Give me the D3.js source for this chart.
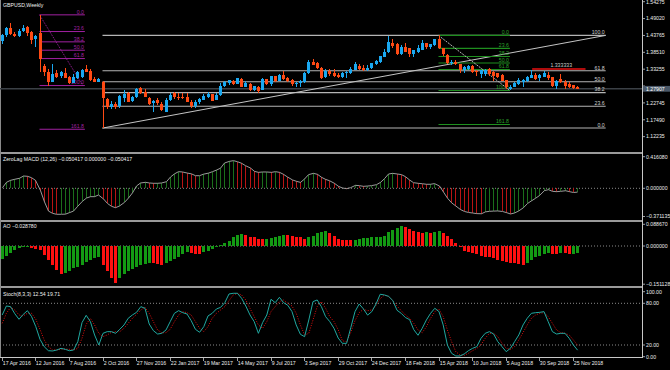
<!DOCTYPE html>
<html><head><meta charset="utf-8">
<script src="https://cdn.jsdelivr.net/npm/d3@7"></script>
<style>body{margin:0;background:#000;overflow:hidden}svg{display:block}</style>
</head><body>
<svg id="c" width="670" height="370"></svg>
<script>
// ---------------- DATA ----------------
const chartTitle = "GBPUSD,Weekly";
const open = [1.4195,1.4400,1.4600,1.4430,1.4365,1.4505,1.4630,1.4475,1.4250,1.4450,
1.3425,1.3250,1.2935,1.3195,1.3110,1.3215,1.3090,1.2905,1.3036,1.3091,
1.3322,1.3269,1.3008,1.2935,1.2935,1.2396,1.2156,1.2230,1.2177,1.2418,
1.2574,1.2335,1.2470,1.2730,1.2626,1.2439,1.2262,1.2366,1.2240,1.1983,
1.2366,1.2574,1.2470,1.2470,1.2470,1.2313,1.2178,1.2300,1.2365,1.2470,
1.2554,1.2365,1.2511,1.2801,1.2885,1.2967,1.2864,1.3009,1.2780,1.2853,
1.2677,1.2780,1.2690,1.3009,1.2864,1.3113,1.2967,1.3134,1.3040,1.2988,
1.2853,1.2884,1.2915,1.3196,1.3560,1.3508,1.3372,1.3071,1.3279,1.3217,
1.3144,1.3071,1.3196,1.3196,1.3300,1.3435,1.3372,1.3300,1.3352,1.3487,
1.3539,1.3694,1.3850,1.4151,1.4110,1.3788,1.4027,1.3975,1.3788,1.3850,
1.3923,1.4131,1.4027,1.4080,1.4255,1.3996,1.3767,1.3507,1.3550,1.3476,
1.3310,1.3340,1.3420,1.3270,1.3165,1.3175,1.3321,1.3248,1.3196,1.3144,
1.2988,1.2700,1.2781,1.2850,1.2930,1.2950,1.3060,1.3144,1.3040,1.3092,
1.3144,1.3071,1.2812,1.3020,1.2936,1.2853,1.2833,1.2780];
const high = [1.4410,1.4640,1.4755,1.4490,1.4590,1.4700,1.4680,1.4500,1.4380,1.5018,
1.3480,1.3320,1.3480,1.3300,1.3260,1.3370,1.3110,1.3185,1.3270,1.3340,
1.3444,1.3320,1.3090,1.3060,1.2970,1.2440,1.2335,1.2305,1.2510,1.2674,
1.2600,1.2500,1.2730,1.2775,1.2705,1.2450,1.2380,1.2430,1.2300,1.2415,
1.2590,1.2600,1.2580,1.2580,1.2570,1.2350,1.2350,1.2430,1.2550,1.2625,
1.2560,1.2580,1.2900,1.2960,1.2990,1.3000,1.3048,1.3050,1.2950,1.2880,
1.2810,1.2800,1.3050,1.3020,1.3125,1.3125,1.3160,1.3267,1.3070,1.3030,
1.2940,1.2980,1.3230,1.3616,1.3657,1.3550,1.3390,1.3340,1.3330,1.3320,
1.3200,1.3250,1.3260,1.3400,1.3550,1.3490,1.3450,1.3450,1.3530,1.3620,
1.3745,1.3940,1.4345,1.4250,1.4140,1.4070,1.4145,1.4000,1.3930,1.4090,
1.4245,1.4150,1.4110,1.4260,1.4377,1.4000,1.3800,1.3620,1.3610,1.3490,
1.3420,1.3470,1.3440,1.3310,1.3300,1.3320,1.3360,1.3260,1.3200,1.3170,
1.3000,1.2840,1.2930,1.3043,1.3010,1.3100,1.3298,1.3200,1.3160,1.3258,
1.3250,1.3080,1.2980,1.3175,1.2990,1.2930,1.2840,1.2800];
const low = [1.4105,1.4330,1.4400,1.4330,1.4330,1.4470,1.4350,1.4120,1.4010,1.3229,
1.3122,1.2798,1.2920,1.3060,1.3050,1.3040,1.2865,1.2880,1.3020,1.3060,
1.3240,1.2960,1.2920,1.2920,1.1491,1.2086,1.2100,1.2080,1.2110,1.2300,
1.2300,1.2300,1.2440,1.2550,1.2450,1.2200,1.2000,1.2200,1.2037,1.1980,
1.2340,1.2400,1.2350,1.2385,1.2300,1.2110,1.2110,1.2250,1.2350,1.2420,
1.2340,1.2360,1.2500,1.2770,1.2840,1.2840,1.2850,1.2760,1.2770,1.2635,
1.2660,1.2590,1.2690,1.2830,1.2810,1.2930,1.2960,1.2990,1.2930,1.2810,
1.2780,1.2774,1.2900,1.3180,1.3440,1.3330,1.3027,1.3060,1.3100,1.3080,
1.3040,1.3040,1.3060,1.3180,1.3290,1.3300,1.3260,1.3270,1.3340,1.3460,
1.3520,1.3690,1.3840,1.4000,1.3760,1.3760,1.3860,1.3712,1.3710,1.3830,
1.3910,1.3960,1.3965,1.4060,1.3950,1.3740,1.3480,1.3460,1.3450,1.3200,
1.3210,1.3310,1.3200,1.3100,1.3050,1.3100,1.3100,1.2957,1.3050,1.2950,
1.2720,1.2662,1.2770,1.2820,1.2785,1.2940,1.3040,1.2990,1.2960,1.3080,
1.2990,1.2770,1.2700,1.2900,1.2723,1.2740,1.2700,1.2700];
const close = [1.4404,1.4600,1.4420,1.4365,1.4525,1.4620,1.4465,1.4235,1.4360,1.3635,
1.3250,1.2935,1.3175,1.3090,1.3245,1.3040,1.2905,1.3075,1.3245,1.3300,
1.3250,1.2990,1.2940,1.3005,1.2418,1.2156,1.2240,1.2135,1.2501,1.2553,
1.2314,1.2470,1.2709,1.2574,1.2470,1.2230,1.2345,1.2262,1.2050,1.2366,
1.2522,1.2470,1.2439,1.2418,1.2314,1.2178,1.2300,1.2410,1.2490,1.2554,
1.2345,1.2523,1.2801,1.2936,1.2985,1.2864,1.3040,1.2770,1.2905,1.2677,
1.2801,1.2650,1.3030,1.2875,1.3110,1.2967,1.3140,1.3030,1.2950,1.2855,
1.2884,1.2957,1.3217,1.3560,1.3456,1.3352,1.3040,1.3279,1.3175,1.3113,
1.3071,1.3196,1.3227,1.3331,1.3487,1.3331,1.3300,1.3372,1.3528,1.3590,
1.3736,1.3871,1.4182,1.4048,1.3788,1.4027,1.3871,1.3788,1.3923,1.3975,
1.4131,1.4027,1.4099,1.4255,1.3996,1.3788,1.3507,1.3559,1.3476,1.3300,
1.3404,1.3435,1.3248,1.3248,1.3300,1.3300,1.3175,1.3113,1.3071,1.2957,
1.2781,1.2780,1.2880,1.2990,1.2990,1.3092,1.3140,1.3009,1.3144,1.3217,
1.3040,1.2801,1.2957,1.2936,1.2812,1.2760,1.2750,1.2717];
const bidLabel = "1.27907";

const macd = [0.008,0.079,0.105,0.118,0.132,0.162,0.158,0.140,0.105,-0.030,
-0.180,-0.300,-0.329,-0.342,-0.342,-0.340,-0.320,-0.300,-0.240,-0.170,
-0.128,-0.110,-0.110,-0.088,-0.140,-0.200,-0.237,-0.255,-0.233,-0.185,
-0.128,-0.060,0.030,0.070,0.079,0.070,0.066,0.066,0.070,0.087,
0.149,0.190,0.219,0.215,0.200,0.190,0.166,0.166,0.186,0.200,
0.219,0.240,0.265,0.333,0.355,0.364,0.350,0.330,0.298,0.267,
0.223,0.210,0.215,0.215,0.210,0.219,0.210,0.184,0.149,0.110,
0.092,0.078,0.122,0.180,0.197,0.184,0.145,0.118,0.100,0.065,
0.026,0.004,-0.005,0.008,0.039,0.035,0.026,0.030,0.035,0.048,
0.078,0.127,0.188,0.197,0.188,0.180,0.153,0.110,0.074,0.065,
0.060,0.053,0.053,0.062,0.030,-0.050,-0.130,-0.190,-0.230,-0.280,
-0.305,-0.318,-0.325,-0.333,-0.335,-0.310,-0.303,-0.300,-0.298,-0.305,
-0.320,-0.338,-0.325,-0.300,-0.255,-0.200,-0.165,-0.132,-0.095,-0.030,
-0.018,-0.040,-0.044,-0.040,-0.032,-0.044,-0.055,-0.050417];
const macdSignalNow = 0.000000;

const ao = [-0.052,-0.040,-0.026,-0.015,-0.009,-0.005,-0.003,-0.008,-0.011,-0.016,
-0.035,-0.055,-0.075,-0.095,-0.112,-0.108,-0.099,-0.088,-0.082,-0.075,
-0.062,-0.055,-0.046,-0.042,-0.075,-0.100,-0.125,-0.145,-0.125,-0.112,
-0.100,-0.090,-0.082,-0.076,-0.072,-0.066,-0.068,-0.072,-0.075,-0.068,
-0.058,-0.050,-0.042,-0.032,-0.024,-0.026,-0.030,-0.032,-0.025,-0.018,
-0.012,-0.004,0.003,0.011,0.021,0.034,0.043,0.047,0.043,0.037,
0.034,0.028,0.026,0.029,0.030,0.034,0.039,0.043,0.042,0.041,
0.037,0.034,0.029,0.034,0.039,0.050,0.057,0.058,0.050,0.039,
0.029,0.025,0.024,0.023,0.024,0.029,0.030,0.033,0.034,0.035,
0.037,0.039,0.057,0.063,0.070,0.078,0.074,0.066,0.059,0.055,
0.053,0.054,0.052,0.056,0.058,0.050,0.039,0.026,0.011,-0.002,
-0.018,-0.022,-0.026,-0.032,-0.040,-0.042,-0.045,-0.049,-0.055,-0.058,
-0.063,-0.066,-0.069,-0.071,-0.075,-0.069,-0.055,-0.045,-0.040,-0.032,
-0.026,-0.032,-0.033,-0.026,-0.029,-0.032,-0.030,-0.02878];

const stochMain = [63.2,76.1,75.2,65,57,64,69.4,60.8,46.4,28.2,
17.6,11.8,11.4,12.8,15.2,13.8,11.8,12.8,24.8,52.2,
62.7,53.6,34.4,20,36.8,39.2,39.2,36.8,42.6,48.8,
58.4,63.2,67.1,75.2,72.8,50.2,40.6,35.8,36.8,41.6,
53.6,65.6,69.4,66.5,64.6,55,42.6,38.3,46.4,61.8,
65.6,71.8,74.2,80.9,93.4,94.4,94.4,87.2,76.1,63.2,
53.6,36.8,52.2,63.2,85.8,80.9,88.6,80.9,77.1,68,
48.8,35.4,32,56,82.4,84.8,75.2,60.8,53.6,44,
30,22.4,22.4,45,68,79,72,63,68,79,
93,92,90,84,70,65.6,59.5,56.5,42,34,
44,56,65.6,72.8,68,48.8,20,8,4.2,4.2,
7.1,11.8,15.2,17.6,29.6,36.8,39.2,35.8,24.8,17.6,
10.4,15.2,24.8,34.4,48.8,58.4,65.6,66.5,67,68,
53.6,39.2,35.8,36.8,36.8,29.6,20,12.54];
const stochSignal = [51.2,65.6,74.2,70.4,63.2,61.8,65.6,65.6,57,42.6,
27.2,17.6,12.8,12.8,13.8,14.2,13.8,12.8,15.2,29.6,
49.8,58.4,48.8,36.8,32,34.4,38.2,39.2,39.2,44,
51.2,58.4,64.2,70.4,74.2,65.6,53.6,41.6,37.7,37.7,
42.6,53.6,63.2,68,66.5,63.2,53.6,44,39.2,46.4,
58.4,65.6,70.4,75.2,83.8,92,94.4,92,84.8,72.8,
60.8,48.8,44,53.6,68,75.2,82.4,84.8,80,76.1,
65.6,48.8,34.4,36.8,56,75.2,82.4,72.8,60.8,53.6,
42,26,24.8,38.2,55,66.5,71.4,69.4,70.4,77,
86.7,92,89.6,83.8,76.1,69.4,63.2,58.4,51.2,41.6,
37.7,46.4,58.4,68,71.4,60.8,41.6,24.8,10.4,5.6,
5.1,8,11.8,15.2,20,29.6,36.8,36.8,32,22.4,
15.2,13.8,17.6,27.2,37.7,48.8,58.4,63.2,65.6,66.5,
60.8,51.2,41.6,37.7,36.8,34.4,27.2,19.71];

const dateLabels = ["17 Apr 2016","12 Jun 2016","7 Aug 2016","2 Oct 2016","27 Nov 2016","22 Jan 2017",
"19 Mar 2017","14 May 2017","9 Jul 2017","3 Sep 2017","29 Oct 2017","24 Dec 2017","18 Feb 2018",
"15 Apr 2018","10 Jun 2018","5 Aug 2018","30 Sep 2018","25 Nov 2018"];
const dateLabelIndex = [0,8,16,24,32,40,48,56,64,72,80,88,96,104,112,120,128,136];

const priceTicks = [1.54275,1.49020,1.43765,1.38510,1.33255,1.28000,1.22745,1.17490,1.12235];
const macdTicks = [0.416080,0.000000,-0.371135];
const aoTicks = [0.088670,0.000000,-0.151128];
const stochTicks = [100,80,20,0];
const stochLevels = [80,20];

const fibLevels = [0,23.6,38.2,50,61.8,100,161.8];
const fibGrayLevels = [0,23.6,38.2,50,61.8,100];
// anchors: [barIndex, price]
const fibPurpleA = [9,1.5018], fibPurpleB = [19.8,1.2815];
const fibGrayA = [24,1.1491], fibGrayB = [143.8,1.4377];
const fibGreenA = [104,1.4377], fibGreenB = [121,1.2662];
const redLevel = 1.333333, redFrom = 126.3, redTo = 139;

// ---------------- DRAW ----------------
const svg = d3.select("#c");
const FONT = "Liberation Sans, Arial, sans-serif";
const FS = 5.2;
const plotR = 642;
svg.append("rect").attr("width",670).attr("height",370).attr("fill","#000");

const x = d3.scaleLinear().domain([0,137]).range([1.7, 1.7+137*4.2]);
const yP = d3.scaleLinear().domain([1.12235,1.54275]).range([136.65,1.7]);
const yM = d3.scaleLinear().domain([-0.371135,0.41608]).range([216.5,156.7]);
const yA = d3.scaleLinear().domain([-0.151128,0.08867]).range([284.2,223.6]);
const yS = d3.scaleLinear().domain([0,100]).range([358.9,289.4]);
const idx = d3.range(close.length);
const px = i => Math.round(x(i));

const defs = svg.append("defs");
function clip(id,y0,h){defs.append("clipPath").attr("id",id).append("rect").attr("x",0).attr("y",y0).attr("width",plotR).attr("height",h);}
clip("cMain",0,152.3); clip("cMacd",154.5,65); clip("cAo",221.8,64.3); clip("cSt",288.3,69.5);

// panel frame
const frame = svg.append("g").attr("shape-rendering","crispEdges");
[153.3,220.6,287.3].forEach(y=>frame.append("rect").attr("x",0).attr("y",y-1).attr("width",plotR+1).attr("height",2).attr("fill","#9a9a9a"));
frame.append("line").attr("x1",0.5).attr("x2",0.5).attr("y1",0).attr("y2",358).attr("stroke","#8a8a8a");
frame.append("line").attr("x1",plotR+0.5).attr("x2",plotR+0.5).attr("y1",0).attr("y2",358).attr("stroke","#c8c8c8");
frame.append("line").attr("x1",0).attr("x2",plotR+1).attr("y1",357.5).attr("y2",357.5).attr("stroke","#c8c8c8");

// ---------- main panel ----------
const gm = svg.append("g").attr("clip-path","url(#cMain)");
gm.append("line").attr("x1",0).attr("x2",plotR).attr("y1",yP(close[137])).attr("y2",yP(close[137]))
  .attr("stroke","#3b4046").attr("stroke-width",1.6);

// gray fib (big)
const gFib = gm.append("g");
fibGrayLevels.forEach(l=>{
  const p = fibGrayA[1] + (fibGrayB[1]-fibGrayA[1])*l/100;
  gFib.append("line").attr("x1",x(fibGrayA[0])).attr("x2",x(fibGrayB[0])).attr("y1",yP(p)).attr("y2",yP(p))
    .attr("stroke","#b4b4b4").attr("stroke-width",1.1);
  gFib.append("text").attr("x",x(fibGrayB[0])-1).attr("y",yP(p)-1.2).attr("text-anchor","end")
    .attr("fill","#d0d0d0").attr("font-size",FS).attr("font-family",FONT).text(d3.format(".1f")(l));
});
gFib.append("line").attr("x1",x(fibGrayA[0])).attr("y1",yP(fibGrayA[1])).attr("x2",x(fibGrayB[0])).attr("y2",yP(fibGrayB[1]))
  .attr("stroke","#c4c4c4").attr("stroke-width",1);

// purple fib
const pCol = "#a020a0";
fibLevels.forEach(l=>{
  const p = fibPurpleA[1] - (fibPurpleA[1]-fibPurpleB[1])*l/100;
  gm.append("line").attr("x1",x(fibPurpleA[0])).attr("x2",x(fibPurpleB[0])).attr("y1",yP(p)).attr("y2",yP(p))
    .attr("stroke",pCol).attr("stroke-width",1);
  gm.append("text").attr("x",x(fibPurpleB[0])-1).attr("y",yP(p)-1.2).attr("text-anchor","end")
    .attr("fill",pCol).attr("font-size",FS).attr("font-family",FONT).text(d3.format(".1f")(l));
});
gm.append("line").attr("x1",x(fibPurpleA[0])).attr("y1",yP(fibPurpleA[1])).attr("x2",x(fibPurpleB[0])-2).attr("y2",yP(fibPurpleB[1]))
  .attr("stroke",pCol).attr("stroke-dasharray","1,1");

// green fib
const gCol = "#1f8f1f";
fibLevels.forEach(l=>{
  const p = fibGreenA[1] - (fibGreenA[1]-fibGreenB[1])*l/100;
  gm.append("line").attr("x1",x(fibGreenA[0])).attr("x2",x(fibGreenB[0])).attr("y1",yP(p)).attr("y2",yP(p))
    .attr("stroke",gCol).attr("stroke-width",1.1);
  gm.append("text").attr("x",x(fibGreenB[0])-1).attr("y",yP(p)-1.2).attr("text-anchor","end")
    .attr("fill","#2aa02a").attr("font-size",FS).attr("font-family",FONT).text(d3.format(".1f")(l));
});
gm.append("line").attr("x1",x(fibGreenA[0])).attr("y1",yP(fibGreenA[1])).attr("x2",x(fibGreenB[0])).attr("y2",yP(fibGreenB[1]))
  .attr("stroke","#b8b8b8").attr("stroke-dasharray","2,1");

// red level
gm.append("line").attr("x1",x(redFrom)).attr("x2",x(redTo)).attr("y1",yP(redLevel)).attr("y2",yP(redLevel))
  .attr("stroke","#e81010").attr("stroke-width",1.5);
gm.append("text").attr("x",x(135.8)).attr("y",yP(redLevel)-2).attr("text-anchor","end")
  .attr("fill","#c8c8c8").attr("font-size",FS).attr("font-family",FONT).text(d3.format(".6f")(redLevel));

// candles
const bull = "#1aa8f0", bear = "#ff4a14";
const cg = gm.append("g").attr("shape-rendering","crispEdges");
idx.forEach(i=>{
  const up = close[i] >= open[i];
  const col = up ? bull : bear;
  const cx = px(i);
  cg.append("line").attr("x1",cx+0.5).attr("x2",cx+0.5).attr("y1",yP(high[i])).attr("y2",yP(low[i])).attr("stroke",col);
  const yt = yP(Math.max(open[i],close[i])), yb = yP(Math.min(open[i],close[i]));
  cg.append("rect").attr("x",cx-1).attr("width",3).attr("y",yt).attr("height",Math.max(1,yb-yt)).attr("fill",col);
});

svg.append("text").attr("x",3).attr("y",6.8).attr("fill","#f0f0f0").attr("font-size",FS).attr("font-family",FONT).text(chartTitle);

// ---------- MACD ----------
const gM = svg.append("g").attr("clip-path","url(#cMacd)");
gM.append("line").attr("x1",0).attr("x2",plotR).attr("y1",yM(0)).attr("y2",yM(0)).attr("stroke","#8a8a8a").attr("stroke-dasharray","1,2");
const hg = gM.append("g").attr("shape-rendering","crispEdges");
idx.forEach(i=>{
  const up = i===0 || macd[i] >= macd[i-1];
  hg.append("line").attr("x1",px(i)+0.5).attr("x2",px(i)+0.5).attr("y1",yM(0)).attr("y2",yM(macd[i]))
    .attr("stroke", up ? "#1b6e1b" : "#b81414");
});
gM.append("path").datum(idx).attr("d",d3.line().x(i=>px(i)+0.5).y(i=>yM(macd[i])))
  .attr("fill","none").attr("stroke","#9a9a9a").attr("stroke-width",1);
svg.append("text").attr("x",3).attr("y",160.8).attr("fill","#f0f0f0").attr("font-size",FS).attr("font-family",FONT)
  .text("ZeroLag MACD (12,26) " + d3.format(".6f")(macd[137]) + " " + d3.format(".6f")(macdSignalNow) + " " + d3.format(".6f")(macd[137]));

// ---------- AO ----------
const gA = svg.append("g").attr("clip-path","url(#cAo)");
gA.append("line").attr("x1",0).attr("x2",plotR).attr("y1",yA(0)).attr("y2",yA(0)).attr("stroke","#8a8a8a").attr("stroke-dasharray","1,2");
const ag = gA.append("g").attr("shape-rendering","crispEdges");
idx.forEach(i=>{
  const up = i===0 || ao[i] >= ao[i-1];
  const y0 = yA(0), y1 = yA(ao[i]);
  ag.append("rect").attr("x",px(i)-1).attr("width",3).attr("y",Math.min(y0,y1)).attr("height",Math.max(1,Math.abs(y1-y0)))
    .attr("fill", up ? "#139a13" : "#ff1010");
});
svg.append("text").attr("x",3).attr("y",227.8).attr("fill","#f0f0f0").attr("font-size",FS).attr("font-family",FONT)
  .text("AO " + d3.format(".6f")(ao[137]));

// ---------- Stochastic ----------
const gS = svg.append("g").attr("clip-path","url(#cSt)");
stochLevels.forEach(l=>gS.append("line").attr("x1",0).attr("x2",plotR).attr("y1",yS(l)).attr("y2",yS(l))
  .attr("stroke","#8a8a8a").attr("stroke-dasharray","1,2"));
gS.append("path").datum(idx).attr("d",d3.line().x(i=>x(i)+0.5).y(i=>yS(stochSignal[i])))
  .attr("fill","none").attr("stroke","#e01010").attr("stroke-width",1).attr("stroke-dasharray","1,1.5");
gS.append("path").datum(idx).attr("d",d3.line().x(i=>x(i)+0.5).y(i=>yS(stochMain[i])))
  .attr("fill","none").attr("stroke","#20a8a0").attr("stroke-width",1);
svg.append("text").attr("x",3).attr("y",295.8).attr("fill","#f0f0f0").attr("font-size",FS).attr("font-family",FONT)
  .text("Stoch(8,3,3) " + d3.format(".2f")(stochMain[137]) + " " + d3.format(".2f")(stochSignal[137]));

// ---------- right axis ----------
const ax = svg.append("g").attr("font-family",FONT).attr("font-size",FS).attr("fill","#ececec");
const bidY = yP(close[137]);
function axisLabels(ticks, scale, fmt, top, bottom, avoid){
  ticks.forEach(t=>{
    const y = scale(t);
    const ly = Math.min(Math.max(y, top), bottom);
    ax.append("line").attr("x1",plotR).attr("x2",plotR+3).attr("y1",ly).attr("y2",ly).attr("stroke","#c8c8c8").attr("stroke-width",0.8);
    if (avoid !== undefined && Math.abs(ly - avoid) < 5.5) return; // hidden behind the bid box, as in the terminal
    ax.append("text").attr("x",plotR+4).attr("y",ly+1.8).text(fmt(t));
  });
}
axisLabels(priceTicks, yP, d3.format(".5f"), 1.7, 150, bidY);
axisLabels(macdTicks, yM, d3.format(".6f"), 156.7, 216.7);
axisLabels(aoTicks, yA, d3.format(".6f"), 224.3, 285);
axisLabels(stochTicks, yS, d3.format(".2f"), 291.7, 356.7);

svg.append("rect").attr("x",plotR+1).attr("y",bidY-2.8).attr("width",27).attr("height",5.8).attr("fill","#4a5868");
svg.append("text").attr("x",plotR+4).attr("y",bidY+1.8).attr("fill","#ffffff").attr("font-size",FS).attr("font-family",FONT).text(bidLabel);

// ---------- bottom axis ----------
const bx = svg.append("g").attr("font-family",FONT).attr("font-size",FS).attr("fill","#ececec");
dateLabels.forEach((lab,k)=>{
  const xx = px(dateLabelIndex[k]) + 0.5;
  bx.append("line").attr("x1",xx).attr("x2",xx).attr("y1",357.5).attr("y2",361).attr("stroke","#c8c8c8").attr("stroke-width",0.8);
  bx.append("text").attr("x",xx+0.3).attr("y",365).text(lab);
});
</script>
</body></html>
